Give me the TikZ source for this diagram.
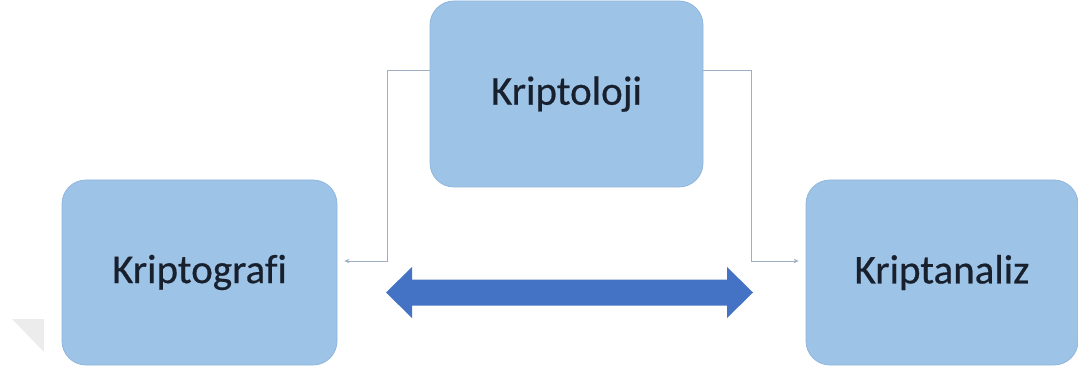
\documentclass[tikz,border=0pt]{standalone}
\usepackage{fontspec}
\setmainfont{Carlito}
\newfontfamily\boxfont{Carlito}[FakeBold=0.5, Ligatures=NoCommon]
\usetikzlibrary{arrows.meta}
\definecolor{boxfill}{HTML}{9DC3E6}
\definecolor{boxedge}{HTML}{8FB6DE}
\definecolor{boxtext}{HTML}{18202E}
\definecolor{linkgray}{HTML}{9FAEC3}
\definecolor{bigarrow}{HTML}{4472C4}
\definecolor{wedgegray}{HTML}{ECECEC}
\begin{document}
\begin{tikzpicture}[x=1pt,y=-1pt,
  topicbox/.style={draw=boxedge, line width=0.8pt, fill=boxfill, rounded corners=24pt,
    text=boxtext, font=\boxfont\fontsize{41}{48}\selectfont, inner sep=0pt},
  link/.style={draw=linkgray, line width=1pt, -{Stealth[length=5pt,width=4.5pt]}, shorten >=7pt}]
  \useasboundingbox (0,0) rectangle (1078,374);
  % faint corner wedge at lower left
  \fill[wedgegray] (12,319) -- (44,319) -- (44,352) -- cycle;
  % three topic boxes
  \node[topicbox, minimum width=273pt, minimum height=186pt] (top) at (566.5,94) {Kriptoloji};
  \node[topicbox, minimum width=275pt, minimum height=185pt] (left) at (199.5,272.5) {Kriptografi};
  \node[topicbox, minimum width=272pt, minimum height=185pt] (right) at (942,272.5) {Kriptanaliz};
  % elbow connectors from the top box
  \draw[link] ([yshift=23pt]top.west) -- ++(-42pt,0) |- ([yshift=11.5pt]left.east);
  \draw[link] ([yshift=23pt]top.east) -- ++(48pt,0) |- ([yshift=11.5pt]right.west);
  % double-headed block arrow between the two lower boxes
  \coordinate (ltip) at (386,292.5);
  \coordinate (rtip) at (753,292.5);
  \fill[bigarrow] (ltip) -- (412,267) -- (412,279.5) -- (727,279.5) -- (727,267)
    -- (rtip) -- (727,318) -- (727,305.5) -- (412,305.5) -- (412,318) -- cycle;
\end{tikzpicture}
\end{document}
